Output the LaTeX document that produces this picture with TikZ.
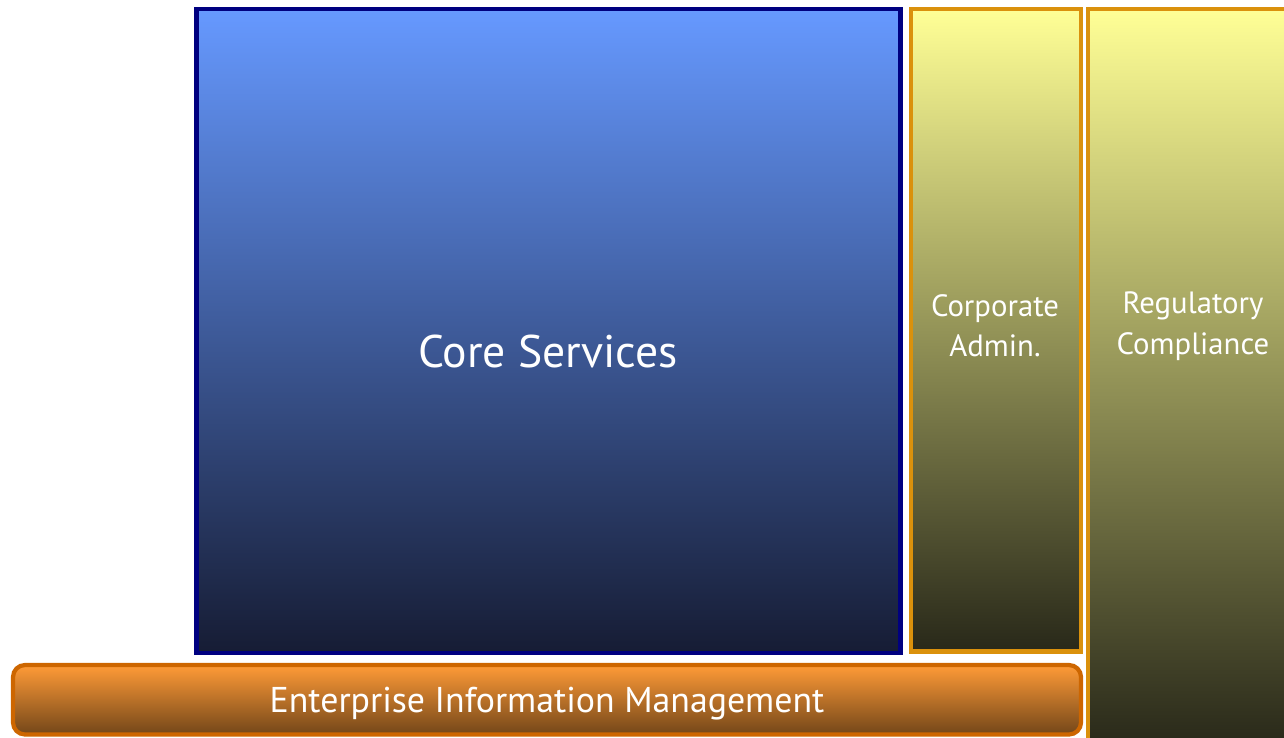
\documentclass[tikz,border=0pt]{standalone}
\usepackage{fontspec}
\setmainfont{PT Sans}
\usepackage{tikz}
\usetikzlibrary{
    positioning,
    calc
}
\definecolor{CoreTop}{RGB}{102,153,255}
\definecolor{CoreMid}{RGB}{72,108,190}
\definecolor{CoreBot}{RGB}{22,28,52}
\definecolor{CoreEdge}{RGB}{0,0,128}
\definecolor{SideTop}{RGB}{255,255,150}
\definecolor{SideMid}{RGB}{205,203,116}
\definecolor{SideBot}{RGB}{40,40,25}
\definecolor{SideEdge}{RGB}{218,145,12}
\definecolor{EimTop}{RGB}{255,155,55}
\definecolor{EimBot}{RGB}{115,70,25}
\definecolor{EimEdge}{RGB}{205,102,0}

\begin{document}
\begin{tikzpicture}[
    box/.style={line width=2.4pt},
    label/.style={text=white, align=center},
]
    \useasboundingbox (0,0) rectangle (25.68,14.74);
    \clip (0,0) rectangle (25.68,14.74);

    % Core Services block
    \shade[box, draw=CoreEdge, top color=CoreTop, middle color=CoreMid, bottom color=CoreBot]
        (3.93,1.68) rectangle (18.01,14.56);
    \node[label, font=\fontsize{26}{30}\selectfont] (core) at (10.96,7.70) {Core Services};

    % Corporate Admin. column
    \shade[box, draw=SideEdge, top color=SideTop, middle color=SideMid, bottom color=SideBot]
        (18.22,1.71) rectangle (21.62,14.56);
    \node[label, font=\fontsize{17.5}{23}\selectfont] (admin) at (19.90,8.22) {Corporate\\Admin.};

    % Regulatory Compliance column (runs off the page)
    \shade[box, draw=SideEdge, top color=SideTop, middle color=SideMid, bottom color=SideBot]
        (21.76,-0.20) rectangle (26.00,14.56);
    \node[label, font=\fontsize{17.5}{23}\selectfont] (reg) at (23.86,8.22) {Regulatory\\Compliance};

    % Enterprise Information Management bar
    \shade[box, draw=EimEdge, top color=EimTop, bottom color=EimBot, rounded corners=0.24cm]
        (0.26,0.05) rectangle (21.62,1.44);
    \node[label, font=\fontsize{20.4}{24}\selectfont] (eim) at (10.94,0.66) {Enterprise Information Management};

\end{tikzpicture}
\end{document}
